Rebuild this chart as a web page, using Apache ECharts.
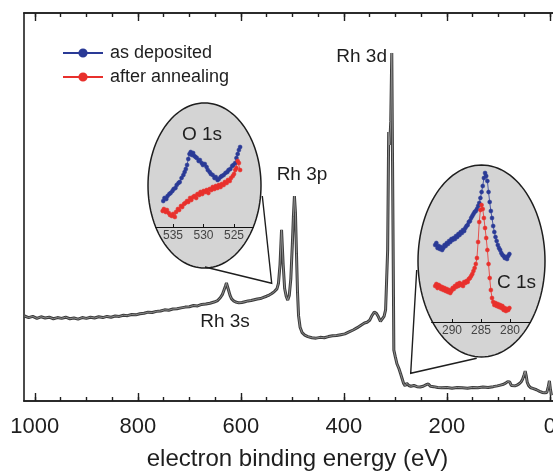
<!DOCTYPE html>
<html>
<head>
<meta charset="utf-8">
<script src="https://cdn.jsdelivr.net/npm/echarts@6/dist/echarts.min.js"></script>
<style>
  html, body { margin: 0; padding: 0; background: #fff; }
  #chart { width: 553px; height: 474px; }
</style>
</head>
<body>
<div id="chart"></div>
<script>
// survey spectrum (binding energy in eV, intensity in a.u.)
const surveyEV = [1020, 1012, 1004, 996, 988, 980, 972, 964, 956, 948, 940, 932, 924, 916, 908, 900, 892, 884, 876, 868,
  860, 852, 844, 836, 828, 820, 812, 804, 796, 788, 780, 772, 764, 756, 748, 740, 732, 724, 716, 708, 700, 692, 684, 676,
  668, 660, 652, 645, 640, 636, 633, 630, 628, 626, 624, 621, 618, 614, 610, 604, 598, 592, 586, 580, 574, 568, 562, 556,
  550, 545, 540, 535, 530, 527, 524, 521, 518, 515, 512, 509, 506, 503, 500, 498, 496, 494, 492, 490, 488, 485, 481, 476,
  470, 462, 454, 446, 438, 430, 422, 414, 406, 398, 390, 382, 374, 366, 360, 355, 350, 346, 341, 337, 333, 329, 326, 322,
  319, 317, 315, 313, 311, 309, 307, 305, 303, 300, 297, 293, 290, 287, 284, 281, 278, 274, 270, 264, 258, 252, 246, 240,
  236, 232, 226, 218, 210, 200, 190, 180, 170, 160, 150, 140, 130, 120, 110, 102, 96, 90, 86, 82, 80, 78, 75, 72, 68, 64,
  60, 56, 53, 50, 48, 46, 44, 41, 37, 32, 26, 20, 15, 10, 6, 3, 1, -1, -3];
const surveyInt = [21.9, 21.5, 21.8, 21.3, 21.7, 21.4, 21.6, 21.2, 21.5, 21.3, 21.6, 21.2, 21.4, 21.1, 21.5, 21.3, 21.6, 21.4, 21.7, 21.5,
  21.8, 21.6, 21.9, 21.8, 22.1, 22.0, 22.3, 22.2, 22.5, 22.6, 22.9, 22.8, 23.1, 23.2, 23.5, 23.4, 23.7, 23.8, 24.0, 24.2, 24.3, 24.6, 24.5, 24.9,
  25.0, 25.2, 25.5, 25.9, 26.6, 27.4, 28.5, 29.6, 30.4, 29.9, 28.6, 27.2, 26.3, 25.8, 25.5, 25.3, 25.4, 25.6, 25.8, 25.9, 26.1, 26.3, 26.4, 26.7,
  27.0, 27.3, 27.7, 28.2, 28.9, 30.3, 35.1, 44.1, 35.5, 29.0, 27.0, 26.0, 27.2, 31.5, 40.5, 47.5, 52.8, 48.5, 38.0, 28.0, 22.0, 19.0, 17.6, 17.0,
  16.6, 16.3, 16.2, 16.4, 16.3, 16.6, 16.8, 16.9, 17.1, 17.3, 17.8, 18.3, 18.9, 19.6, 20.1, 20.3, 20.8, 21.9, 22.9, 22.6, 21.7, 20.5, 20.7, 21.8,
  23.5, 31.2, 38.9, 69.3, 66.0, 72.0, 89.7, 51.8, 13.1, 11.3, 9.6, 8.3, 7.1, 5.8, 4.5, 3.9, 4.6, 4.0, 3.8, 4.0, 3.7, 3.6, 3.8, 4.2,
  4.4, 3.8, 3.7, 3.5, 3.4, 3.5, 3.3, 3.5, 3.4, 3.3, 3.5, 3.4, 3.6, 3.5, 3.7, 3.9, 4.1, 4.3, 4.6, 5.0, 5.4, 4.9, 4.0, 3.8, 3.9, 4.1,
  4.4, 4.9, 5.6, 6.8, 7.7, 6.5, 4.8, 3.9, 3.4, 3.2, 2.9, 2.5, 2.2, 2.1, 2.2, 3.8, 5.2, 3.0, 1.5];
const surveyTicks = [1000, 800, 600, 400, 200, 0];
const surveyMinorTicks = [1000, 950, 900, 850, 800, 750, 700, 650, 600, 550, 500, 450, 400, 350, 300, 250, 200, 150, 100, 50, 0];

// O 1s detail
const o1sDepEV = [536.6, 536.4, 536.1, 535.9, 535.6, 535.4, 535.1, 534.9, 534.6, 534.4, 534.1, 533.9, 533.6, 533.3, 533.1, 532.9,
  532.7, 532.5, 532.3, 532.1, 531.9, 531.7, 531.5, 531.3, 531.1, 530.8, 530.6, 530.3, 530.1, 529.8, 529.5, 529.3, 529.0, 528.8,
  528.5, 528.2, 528.0, 527.7, 527.5, 527.2, 527.0, 526.7, 526.4, 526.1, 525.9, 525.6, 525.3, 525.1, 524.8, 524.6, 524.4, 524.2, 524.0];
const o1sDep = [26, 29, 28, 31, 33, 34, 36, 38, 39, 42, 44, 45, 49, 52, 55, 58,
  62, 68, 73, 75, 72, 74, 71, 70, 69, 66, 67, 64, 62, 63, 60, 57, 55, 53,
  52, 49, 50, 47, 48, 50, 51, 52, 54, 55, 57, 58, 61, 62, 64, 69, 73, 77, 80];
const o1sAnnEV = [536.7, 536.5, 536.2, 536.0, 535.7, 535.5, 535.2, 535.0, 534.7, 534.5, 534.2, 534.0, 533.7, 533.5, 533.2, 533.0,
  532.7, 532.5, 532.2, 532.0, 531.7, 531.5, 531.2, 531.0, 530.7, 530.5, 530.2, 530.0, 529.7, 529.5, 529.2, 529.0, 528.7, 528.5,
  528.2, 528.0, 527.7, 527.5, 527.2, 527.0, 526.7, 526.5, 526.2, 526.0, 525.7, 525.5, 525.2, 525.0, 524.8, 524.6, 524.4, 524.2, 524.0];
const o1sAnn = [16, 18, 15, 17, 14, 12, 11, 13, 10, 15, 18, 17, 21, 20, 23, 24,
  26, 25, 29, 27, 30, 31, 29, 33, 32, 35, 33, 36, 35, 37, 34, 38, 37, 40,
  38, 41, 39, 42, 40, 43, 42, 45, 44, 47, 46, 49, 51, 53, 57, 59, 66, 64, 57];
const o1sTicks = [535, 530, 525];

// C 1s detail
const c1sDepEV = [292.9, 292.7, 292.5, 292.3, 292.1, 291.9, 291.7, 291.5, 291.3, 291.1, 290.9, 290.7, 290.5, 290.3, 290.1, 289.9,
  289.7, 289.5, 289.3, 289.1, 288.9, 288.7, 288.5, 288.3, 288.1, 287.9, 287.7, 287.5, 287.3, 287.1, 286.9, 286.7, 286.5, 286.3,
  286.1, 285.9, 285.7, 285.5, 285.3, 285.1, 284.9, 284.7, 284.5, 284.3, 284.1, 283.9, 283.7, 283.5, 283.3, 283.1, 282.9, 282.7,
  282.5, 282.3, 282.1, 281.9, 281.7, 281.5, 281.3, 281.1, 280.9, 280.7, 280.5, 280.3, 280.1];
const c1sDep = [77, 79, 74, 76, 73, 75, 72, 74, 77, 76, 79, 78, 81, 80, 83, 82,
  84, 83, 86, 85, 88, 87, 90, 89, 92, 91, 94, 96, 97, 100, 101, 104, 106, 108,
  110, 111, 113, 116, 119, 124, 130, 136, 144, 149, 146, 141, 130, 120, 111, 104, 96, 90,
  85, 81, 77, 74, 72, 69, 67, 66, 64, 65, 63, 66, 68];
const c1sAnnEV = [292.9, 292.7, 292.5, 292.3, 292.1, 291.9, 291.7, 291.5, 291.3, 291.1, 290.9, 290.7, 290.5, 290.3, 290.1, 289.9,
  289.7, 289.5, 289.3, 289.1, 288.9, 288.7, 288.5, 288.3, 288.1, 287.9, 287.7, 287.5, 287.3, 287.1, 286.9, 286.7, 286.5, 286.3,
  286.1, 285.9, 285.7, 285.5, 285.3, 285.1, 284.9, 284.7, 284.5, 284.3, 284.1, 283.9, 283.7, 283.5, 283.3, 283.1, 282.9, 282.7,
  282.5, 282.3, 282.1, 281.9, 281.7, 281.5, 281.3, 281.1, 280.9, 280.7, 280.5, 280.3, 280.1];
const c1sAnn = [36, 38, 34, 37, 36, 33, 35, 32, 34, 31, 33, 30, 32, 29, 31, 34,
  33, 36, 35, 38, 36, 39, 37, 38, 36, 40, 39, 41, 40, 43, 44, 46, 48, 51,
  54, 58, 64, 80, 100, 112, 117, 113, 104, 94, 84, 72, 58, 44, 32, 24, 20, 17,
  19, 16, 18, 15, 17, 14, 16, 12, 14, 11, 13, 12, 14];
const c1sTicks = [290, 285, 280];

const FONT = '"Liberation Sans", Arial, sans-serif';
const TXT = '#1e1e1e';
const BLUE = '#2a3a96';
const RED = '#e8302c';

const zip = (xs, ys) => xs.map((x, i) => [x, ys[i]]);

function ellipse(cx, cy, rx, ry) {
  const pts = [];
  for (let i = 0; i < 120; i++) {
    const a = (i / 120) * Math.PI * 2;
    pts.push([cx + rx * Math.cos(a), cy + ry * Math.sin(a)]);
  }
  return pts;
}

function label(text, x, y, size, align) {
  return {
    type: 'text', x, y, z: 20,
    style: { text, fill: TXT, font: `${size}px ${FONT}`, align: align || 'center', verticalAlign: 'middle' },
  };
}

function mainX(position, ticks, len, withLabels) {
  return {
    type: 'value', gridIndex: 0, position, inverse: true, min: -6, max: 1021,
    axisLine: { show: true, onZero: false, lineStyle: { color: '#1e1e1e', width: 1.6 } },
    axisTick: { show: true, inside: true, length: len, customValues: ticks, lineStyle: { color: '#1e1e1e', width: 1.4 } },
    axisLabel: withLabels
      ? { show: true, customValues: ticks, margin: 15, fontSize: 22, color: TXT, fontFamily: FONT, formatter: (v) => String(v) }
      : { show: false },
    splitLine: { show: false },
  };
}

function insetX(grid, min, max, ticks) {
  return {
    type: 'value', gridIndex: grid, inverse: true, min, max, z: 5,
    axisLine: { show: true, onZero: false, lineStyle: { color: '#111', width: 1 } },
    axisTick: { show: true, inside: true, length: 3, customValues: ticks, lineStyle: { color: '#111' } },
    axisLabel: { show: true, customValues: ticks, margin: 3, fontSize: 12, color: '#444', fontFamily: FONT, formatter: (v) => String(v) },
    splitLine: { show: false },
  };
}

function insetSeries(name, xIdx, yIdx, data, color) {
  return {
    name, type: 'line', xAxisIndex: xIdx, yAxisIndex: yIdx, data, z: 10,
    symbol: 'circle', symbolSize: 4, showAllSymbol: true,
    lineStyle: { color, width: 0.8 },
    itemStyle: { color, borderColor: color, borderWidth: 0.5 },
    emphasis: { disabled: true },
  };
}

const chart = echarts.init(document.getElementById('chart'), null, { renderer: 'canvas' });

const xMain = mainX('bottom', surveyTicks, 8, true);
xMain.name = 'electron binding energy (eV)';
xMain.nameLocation = 'middle';
xMain.nameGap = 46;
xMain.nameTextStyle = { fontSize: 24, color: TXT, fontFamily: FONT, padding: [0, 0, 0, 18] };

chart.setOption({
  animation: false,
  backgroundColor: '#fff',
  textStyle: { fontFamily: FONT },
  legend: {
    data: ['as deposited', 'after annealing'],
    orient: 'vertical', left: 62, top: 44, padding: 0,
    itemWidth: 40, itemHeight: 9, itemGap: 6,
    textStyle: { fontSize: 18, color: TXT, fontFamily: FONT, padding: [0, 0, 0, 2] },
    selectedMode: false,
  },
  grid: [
    { left: 24, top: 13, width: 529, height: 388, outerBoundsMode: 'none', containLabel: false },
    { left: 155.7, top: 127, width: 97.6, height: 100, outerBoundsMode: 'none', containLabel: false },
    { left: 431.6, top: 162, width: 98.8, height: 160, outerBoundsMode: 'none', containLabel: false },
  ],
  xAxis: [
    xMain,
    mainX('bottom', surveyMinorTicks, 4, false),
    mainX('top', surveyTicks, 8, false),
    mainX('top', surveyMinorTicks, 4, false),
    insetX(1, 521.84, 537.84, o1sTicks),
    insetX(2, 276.48, 293.52, c1sTicks),
  ],
  yAxis: [
    {
      type: 'value', gridIndex: 0, min: 0, max: 100,
      axisLine: { show: true, onZero: false, lineStyle: { color: '#1e1e1e', width: 1.6 } },
      axisTick: { show: false }, axisLabel: { show: false }, splitLine: { show: false },
    },
    { type: 'value', gridIndex: 1, min: 0, max: 100, show: false },
    { type: 'value', gridIndex: 2, min: 0, max: 160, show: false },
  ],
  series: [
    {
      type: 'line', xAxisIndex: 0, yAxisIndex: 0, data: zip(surveyEV, surveyInt), z: 2,
      symbol: 'none', silent: true, lineStyle: { color: '#3c3c3c', width: 3 },
    },
    {
      type: 'line', xAxisIndex: 0, yAxisIndex: 0, data: zip(surveyEV, surveyInt), z: 3,
      symbol: 'none', silent: true, lineStyle: { color: '#8c8c8c', width: 1 },
    },
    insetSeries('as deposited', 4, 1, zip(o1sDepEV, o1sDep), BLUE),
    insetSeries('after annealing', 4, 1, zip(o1sAnnEV, o1sAnn), RED),
    insetSeries('as deposited', 5, 2, zip(c1sDepEV, c1sDep), BLUE),
    insetSeries('after annealing', 5, 2, zip(c1sAnnEV, c1sAnn), RED),
  ],
  graphic: [
    { type: 'polygon', z: 1, shape: { points: ellipse(204.5, 185.5, 56.5, 82.5) }, style: { fill: '#d4d4d4', stroke: '#1e1e1e', lineWidth: 1.5 } },
    { type: 'polygon', z: 1, shape: { points: ellipse(481.5, 261, 63.5, 96) }, style: { fill: '#d4d4d4', stroke: '#1e1e1e', lineWidth: 1.5 } },
    { type: 'polyline', z: 1, shape: { points: [[262.3, 196], [271.7, 283.3], [205, 267]] }, style: { stroke: '#1e1e1e', lineWidth: 1.4, fill: null } },
    { type: 'polyline', z: 1, shape: { points: [[416.7, 270], [410.7, 373.3], [476.7, 358.3]] }, style: { stroke: '#1e1e1e', lineWidth: 1.4, fill: null } },
    label('O 1s', 202, 135, 19),
    label('C 1s', 516.5, 283, 19),
    label('Rh 3d', 387, 57, 19, 'right'),
    label('Rh 3p', 302, 175, 19),
    label('Rh 3s', 225, 322, 19),
  ],
});
</script>
</body>
</html>
